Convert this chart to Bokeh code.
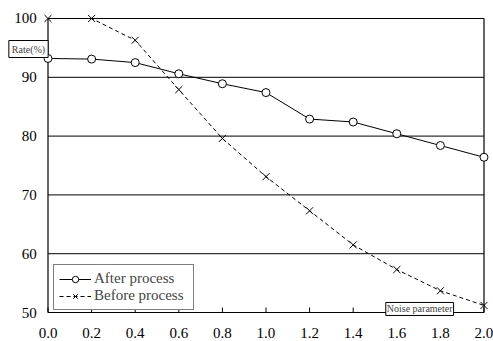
from bokeh.plotting import figure
from bokeh.models import Range1d, Legend, LegendItem, Label
from bokeh.core.properties import value
from bokeh.embed import file_html
from bokeh.resources import INLINE

noise = [0.0, 0.2, 0.4, 0.6, 0.8, 1.0, 1.2, 1.4, 1.6, 1.8, 2.0]
after = [93.2, 93.1, 92.5, 90.6, 88.9, 87.4, 82.9, 82.4, 80.4, 78.4, 76.4]
before = [100.0, 100.0, 96.3, 87.9, 79.6, 73.1, 67.3, 61.5, 57.3, 53.7, 51.2]
x_ticks = [0.0, 0.2, 0.4, 0.6, 0.8, 1.0, 1.2, 1.4, 1.6, 1.8, 2.0]
x_tick_labels = ["0.0", "0.2", "0.4", "0.6", "0.8", "1.0", "1.2", "1.4", "1.6", "1.8", "2.0"]
y_ticks = [50, 60, 70, 80, 90, 100]
y_tick_labels = ["50", "60", "70", "80", "90", "100"]

FONT = "Liberation Serif"

p = figure(width=493, height=341, output_backend="svg", toolbar_location=None,
           x_range=Range1d(-0.2179, 2.0436), y_range=Range1d(45.07, 103.06),
           min_border=0)
p.outline_line_color = None
p.xgrid.visible = False
p.ygrid.visible = False
p.xaxis.visible = False
p.yaxis.visible = False

xmin, xmax = min(x_ticks), max(x_ticks)
ymin, ymax = min(y_ticks), max(y_ticks)

# horizontal grid lines (bounded to data area)
gy = y_ticks[1:]
p.segment(x0=[xmin] * len(gy), y0=gy, x1=[xmax] * len(gy), y1=gy, line_color="black", line_width=1)
# axis / frame lines
p.segment(x0=[xmin, xmin, xmax], y0=[ymin, ymin, ymin], x1=[xmin, xmax, xmax], y1=[ymax, ymin, ymax],
          line_color="black", line_width=1.2)
# inward x tick marks
tick_len = 0.85
p.segment(x0=x_ticks, y0=[ymin] * len(x_ticks), x1=x_ticks, y1=[ymin + tick_len] * len(x_ticks),
          line_color="black", line_width=1)
# tick labels
p.text(x=[-0.052] * len(y_ticks), y=y_ticks, text=y_tick_labels, text_align="right",
       text_baseline="middle", text_font=value(FONT), text_font_size="15px", text_color="black")
p.text(x=x_ticks, y=[46.6] * len(x_ticks), text=x_tick_labels, text_align="center",
       text_baseline="middle", text_font=value(FONT), text_font_size="15px", text_color="black")

l1 = p.line(noise, after, line_color="black", line_width=1)
m1 = p.scatter(noise, after, marker="circle", size=8, fill_color="white", line_color="black", line_width=1)
l2 = p.line(noise, before, line_color="black", line_width=1, line_dash="4 3")
m2 = p.scatter(noise, before, marker="x", size=10, line_color="black", line_width=1)

legend = Legend(items=[LegendItem(label="After process", renderers=[l1, m1]),
                       LegendItem(label="Before process", renderers=[l2, m2])],
                location=(53, 31), label_text_font=FONT, label_text_font_size="15px",
                border_line_color="black", border_line_width=1, background_fill_alpha=1,
                padding=5, spacing=0, glyph_width=32, glyph_height=16, label_height=16,
                label_standoff=3, label_width=94, margin=0)
p.add_layout(legend, "center")

p.add_layout(Label(x=-0.0895, y=94.81, text="Rate(%)", text_align="center", text_baseline="middle",
                   text_font=FONT, text_font_size="10px", border_line_color="black",
                   background_fill_color="white", padding=3))
p.add_layout(Label(x=1.705, y=50.6, text="Noise parameter", text_align="center", text_baseline="middle",
                   text_font=FONT, text_font_size="10px", border_line_color="black",
                   background_fill_color="white", padding=1))

open("out.html", "w").write(file_html(p, INLINE))
